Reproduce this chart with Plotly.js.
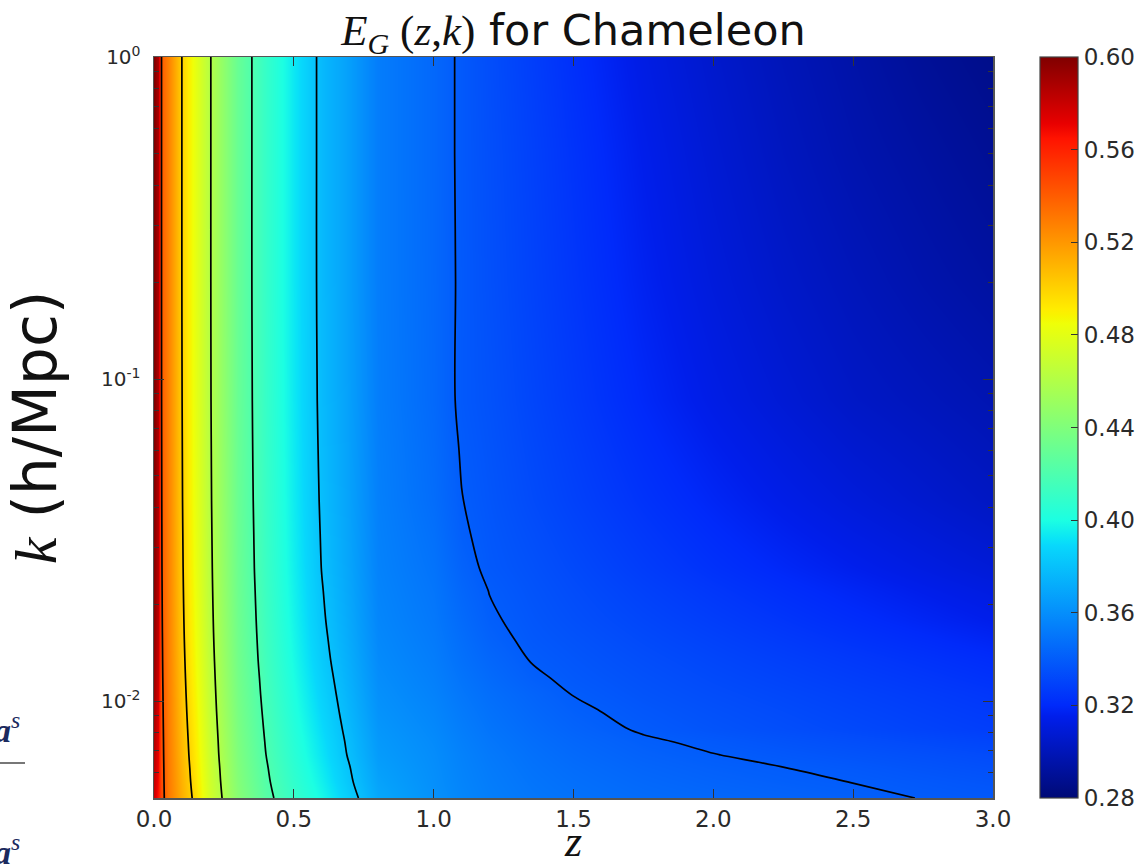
<!DOCTYPE html>
<html>
<head>
<meta charset="utf-8">
<script src="https://cdn.plot.ly/plotly-3.0.1.min.js"></script>
<style>
  html, body { margin: 0; padding: 0; background: #fff; }
  #chart { width: 1144px; height: 866px; }
</style>
</head>
<body>
<div id="chart"></div>
<script>
// redshift z (columns)
const zGrid = [0, 0.015, 0.025, 0.05, 0.1, 0.15, 0.2, 0.3, 0.4, 0.5, 0.6, 0.7, 0.8, 1.0, 1.1, 1.2, 1.35, 1.5, 1.75, 2.0, 2.25, 2.5, 2.75, 3.0];
// wavenumber k in h/Mpc (rows)
const kGrid = [0.005, 0.0056, 0.0062, 0.0068, 0.0075, 0.0082, 0.0093, 0.0105, 0.0118, 0.0133, 0.0155, 0.018, 0.022, 0.026, 0.033, 0.042, 0.06, 0.086, 0.2, 0.5, 1.0];

// E_G(z,k) values, one row per k
const egK0050 = [0.578, 0.565, 0.548, 0.531, 0.512, 0.4955, 0.473, 0.443, 0.424, 0.410, 0.398, 0.3845, 0.370, 0.361, 0.3565, 0.3535, 0.3505, 0.3485, 0.346, 0.3445, 0.343, 0.3415, 0.3398, 0.3385];
const egK0056 = [0.5806, 0.5678, 0.5472, 0.5306, 0.5106, 0.4936, 0.4716, 0.4414, 0.4223, 0.408, 0.3955, 0.3817, 0.368, 0.3602, 0.3558, 0.3528, 0.3496, 0.3474, 0.3447, 0.3428, 0.3413, 0.3399, 0.3383, 0.3368];
const egK0062 = [0.5824, 0.5696, 0.5466, 0.5304, 0.5096, 0.4924, 0.4706, 0.4404, 0.4212, 0.4066, 0.3938, 0.3803, 0.3666, 0.3597, 0.3553, 0.3522, 0.3488, 0.3464, 0.3435, 0.3415, 0.3401, 0.3385, 0.3366, 0.3349];
const egK0068 = [0.5842, 0.5714, 0.546, 0.5302, 0.5086, 0.4912, 0.4696, 0.4394, 0.4201, 0.4052, 0.3921, 0.3786, 0.3652, 0.3592, 0.3548, 0.3515, 0.348, 0.3453, 0.3422, 0.3402, 0.3383, 0.3365, 0.3348, 0.333];
const egK0075 = [0.5855, 0.5728, 0.5456, 0.53, 0.5079, 0.4902, 0.4689, 0.4386, 0.4192, 0.4042, 0.3909, 0.3776, 0.3642, 0.3584, 0.3539, 0.3505, 0.3469, 0.3441, 0.3409, 0.3386, 0.3363, 0.3343, 0.3323, 0.3304];
const egK0082 = [0.5868, 0.5742, 0.5452, 0.5298, 0.5072, 0.4893, 0.4682, 0.4378, 0.4184, 0.4032, 0.3896, 0.3765, 0.3632, 0.3575, 0.353, 0.3495, 0.3458, 0.3428, 0.3392, 0.3365, 0.3342, 0.332, 0.3298, 0.3278];
const egK0093 = [0.5886, 0.576, 0.5446, 0.5296, 0.5062, 0.4881, 0.4672, 0.4368, 0.4173, 0.4018, 0.3879, 0.3751, 0.3618, 0.3563, 0.3518, 0.3483, 0.3445, 0.3413, 0.3379, 0.3352, 0.3329, 0.3306, 0.3284, 0.3263];
const egK0105 = [0.5901, 0.5777, 0.5442, 0.5294, 0.5054, 0.487, 0.4664, 0.4359, 0.4163, 0.4007, 0.3865, 0.3739, 0.3607, 0.355, 0.3505, 0.347, 0.3432, 0.3398, 0.3365, 0.3338, 0.3315, 0.3292, 0.327, 0.3248];
const egK0118 = [0.5914, 0.579, 0.5437, 0.5292, 0.5047, 0.486, 0.4657, 0.4351, 0.4155, 0.3996, 0.3852, 0.3728, 0.3596, 0.354, 0.3493, 0.3456, 0.3412, 0.3385, 0.3354, 0.3325, 0.33, 0.3276, 0.3253, 0.3229];
const egK0133 = [0.5927, 0.5804, 0.5433, 0.529, 0.504, 0.4851, 0.465, 0.4343, 0.4146, 0.3986, 0.3839, 0.3718, 0.3586, 0.353, 0.348, 0.3442, 0.3398, 0.3375, 0.3342, 0.3312, 0.3285, 0.326, 0.3235, 0.321];
const egK0155 = [0.5941, 0.5818, 0.5429, 0.5288, 0.5032, 0.4842, 0.4642, 0.4335, 0.4138, 0.3976, 0.3827, 0.3707, 0.3576, 0.352, 0.3468, 0.3424, 0.3384, 0.3362, 0.3326, 0.3294, 0.3264, 0.3235, 0.3208, 0.318];
const egK0180 = [0.5952, 0.5829, 0.5425, 0.5287, 0.5026, 0.4834, 0.4636, 0.4329, 0.4131, 0.3967, 0.3816, 0.3699, 0.3567, 0.351, 0.3455, 0.341, 0.3375, 0.3348, 0.331, 0.3275, 0.3242, 0.321, 0.318, 0.315];
const egK0220 = [0.5963, 0.5841, 0.5422, 0.5285, 0.502, 0.4826, 0.463, 0.4322, 0.4124, 0.3959, 0.3806, 0.369, 0.3559, 0.35, 0.344, 0.3398, 0.3365, 0.3335, 0.3291, 0.3252, 0.3216, 0.3183, 0.3151, 0.312];
const egK0260 = [0.5971, 0.585, 0.5419, 0.5284, 0.5016, 0.482, 0.4626, 0.4317, 0.4118, 0.3952, 0.3797, 0.3683, 0.3552, 0.349, 0.3425, 0.3385, 0.3355, 0.3322, 0.3272, 0.3228, 0.319, 0.3155, 0.3122, 0.309];
const egK0330 = [0.5978, 0.5857, 0.5417, 0.5283, 0.5012, 0.4816, 0.4622, 0.4313, 0.4114, 0.3947, 0.3791, 0.3678, 0.3547, 0.3478, 0.341, 0.3379, 0.3343, 0.3307, 0.3254, 0.3207, 0.3165, 0.3128, 0.3094, 0.306];
const egK0420 = [0.5985, 0.5864, 0.5415, 0.5282, 0.5008, 0.4811, 0.4618, 0.4309, 0.411, 0.3942, 0.3785, 0.3672, 0.3542, 0.3465, 0.3402, 0.3372, 0.333, 0.3292, 0.3235, 0.3185, 0.314, 0.31, 0.3065, 0.303];
const egK0600 = [0.599, 0.587, 0.5413, 0.5281, 0.5005, 0.4807, 0.4615, 0.4306, 0.4106, 0.3938, 0.3779, 0.3668, 0.3538, 0.3458, 0.3394, 0.3365, 0.332, 0.3279, 0.3215, 0.316, 0.3113, 0.307, 0.3038, 0.3005];
const egK0860 = [0.5996, 0.5875, 0.5411, 0.5281, 0.5002, 0.4803, 0.4612, 0.4303, 0.4103, 0.3933, 0.3774, 0.3664, 0.3533, 0.345, 0.3385, 0.3358, 0.331, 0.3265, 0.3195, 0.3135, 0.3085, 0.304, 0.301, 0.298];
const egK2000 = [0.60, 0.588, 0.541, 0.528, 0.4998, 0.480, 0.461, 0.430, 0.410, 0.393, 0.377, 0.366, 0.353, 0.3447, 0.3387, 0.335, 0.3298, 0.3248, 0.317, 0.3105, 0.305, 0.3005, 0.2965, 0.293];
const egK5000 = [0.60, 0.588, 0.541, 0.528, 0.4998, 0.480, 0.461, 0.430, 0.410, 0.393, 0.377, 0.366, 0.353, 0.3445, 0.3385, 0.3345, 0.329, 0.3235, 0.315, 0.308, 0.302, 0.297, 0.293, 0.289];
const egK10000 = [0.60, 0.588, 0.541, 0.528, 0.4998, 0.480, 0.461, 0.430, 0.410, 0.393, 0.377, 0.366, 0.353, 0.3445, 0.3385, 0.334, 0.328, 0.322, 0.313, 0.306, 0.300, 0.295, 0.290, 0.286];

const egRows = [egK0050, egK0056, egK0062, egK0068, egK0075, egK0082, egK0093, egK0105, egK0118, egK0133,
                egK0155, egK0180, egK0220, egK0260, egK0330, egK0420, egK0600, egK0860, egK2000, egK5000, egK10000];

const yTickVals = [0.01, 0.1, 1];
const yTickText = ['10<sup>-2</sup>', '10<sup>-1</sup>', '10<sup>0</sup>'];
const cbTickVals = [0.28, 0.32, 0.36, 0.40, 0.44, 0.48, 0.52, 0.56, 0.60];

// jet-like colour map as it appears in the picture
const jet = [
  [0.000, 'rgb(0,10,118)'],
  [0.110, 'rgb(0,30,235)'],
  [0.125, 'rgb(0,42,250)'],
  [0.340, 'rgb(8,215,252)'],
  [0.350, 'rgb(10,228,246)'],
  [0.375, 'rgb(28,255,226)'],
  [0.640, 'rgb(239,255,8)'],
  [0.650, 'rgb(247,245,0)'],
  [0.660, 'rgb(255,236,0)'],
  [0.890, 'rgb(255,19,0)'],
  [0.910, 'rgb(232,0,0)'],
  [1.000, 'rgb(128,0,0)']
];

const W = 1144, H = 866;
const mL = 154, mR = 151, mT = 57, mB = 68;
const pw = W - mL - mR, ph = H - mT - mB;
const px = v => (v - mL) / pw;
const py = v => 1 - (v - mT) / ph;

const tickFont = { family: 'DejaVu Sans', size: 23, color: '#2a2a2a' };

const heat = {
  type: 'heatmap',
  x: zGrid, y: kGrid, z: egRows,
  zsmooth: 'best',
  colorscale: jet,
  zmin: 0.28, zmax: 0.60,
  hoverinfo: 'skip',
  colorbar: {
    x: px(1040), xanchor: 'left', xref: 'paper',
    y: 0.5, yanchor: 'middle', len: 1.0, lenmode: 'fraction',
    thickness: 38, thicknessmode: 'pixels',
    outlinecolor: '#444', outlinewidth: 1.2,
    tickmode: 'array', tickvals: cbTickVals,
    tickformat: '.2f',
    ticks: 'inside', ticklen: 7, tickcolor: '#333', tickwidth: 1,
    tickfont: { family: 'DejaVu Sans', size: 23, color: '#2a2a2a' },
    ypad: 0, xpad: 0
  }
};

const lines = {
  type: 'contour',
  x: zGrid, y: kGrid, z: egRows,
  autocontour: false,
  contours: { start: 0.34, end: 0.54, size: 0.04, coloring: 'none' },
  line: { color: '#000', width: 1.7, smoothing: 1 },
  showscale: false,
  hoverinfo: 'skip'
};

const serif = 'Liberation Serif';

const layout = {
  width: W, height: H,
  margin: { l: mL, r: mR, t: mT, b: mB, pad: 0, autoexpand: false },
  paper_bgcolor: '#fff', plot_bgcolor: '#fff',
  font: { family: 'DejaVu Sans', color: '#1a1a1a' },
  showlegend: false,
  title: {
    text: '<span style="font-family:Liberation Serif"><i>E</i><sub><i>G</i></sub> (<i>z</i>,<i>k</i>)</span> for Chameleon',
    font: { family: 'DejaVu Sans', size: 43, color: '#111' },
    x: 0.5, xref: 'paper', xanchor: 'center',
    y: 1 - 30 / H, yref: 'container', yanchor: 'middle'
  },
  xaxis: {
    range: [0, 3],
    tick0: 0, dtick: 0.5, tickformat: '.1f',
    ticks: 'inside', ticklen: 9, tickwidth: 1, tickcolor: '#333',
    mirror: 'allticks', showline: true, linecolor: '#555', linewidth: 1.5,
    showgrid: false, zeroline: false,
    tickfont: tickFont,
    title: { text: '<i>z</i>', font: { family: serif, size: 44, color: '#111' }, standoff: 12 }
  },
  yaxis: {
    type: 'log',
    range: [Math.log10(0.005), 0],
    tickmode: 'array', tickvals: yTickVals, ticktext: yTickText,
    ticks: 'inside', ticklen: 10, tickwidth: 1, tickcolor: '#333',
    minor: { dtick: 'D1', ticks: 'inside', ticklen: 5, tickcolor: '#333', tickwidth: 1, showgrid: false },
    mirror: 'allticks', showline: true, linecolor: '#555', linewidth: 1.5,
    showgrid: false, zeroline: false,
    ticklabelstandoff: 8,
    tickfont: { family: 'DejaVu Sans', size: 20, color: '#2a2a2a' },
    title: {
      text: '<span style="font-family:Liberation Serif"><i>k</i></span> (h/Mpc)',
      font: { family: 'DejaVu Sans', size: 60, color: '#111' }, standoff: 26
    }
  },
  annotations: [
    { xref: 'paper', yref: 'paper', x: px(22), y: py(728), xanchor: 'right', yanchor: 'middle',
      text: '<b><i>a</i></b><sup><i>s</i></sup>', showarrow: false,
      font: { family: serif, size: 34, color: '#1b2a5e' } },
    { xref: 'paper', yref: 'paper', x: px(22), y: py(850), xanchor: 'right', yanchor: 'middle',
      text: '<b><i>a</i></b><sup><i>s</i></sup>', showarrow: false,
      font: { family: serif, size: 34, color: '#1b2a5e' } }
  ],
  shapes: [
    { type: 'line', xref: 'paper', yref: 'paper', x0: px(0), x1: px(25), y0: py(763), y1: py(763),
      line: { color: '#777', width: 2 } }
  ]
};

Plotly.newPlot('chart', [heat, lines], layout, { displayModeBar: false, staticPlot: true });
</script>
</body>
</html>
